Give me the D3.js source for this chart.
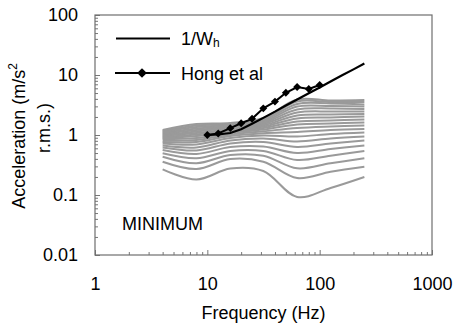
<!DOCTYPE html>
<html>
<head>
<meta charset="utf-8">
<script src="https://cdn.jsdelivr.net/npm/d3@7"></script>
<style>
  body { margin: 0; background: #fff; }
  text { font-family: "Liberation Sans", Arial, sans-serif; fill: #000; }
</style>
</head>
<body>
<div id="chart"></div>
<script>
// gray curves, octave bands (Hz), top curve first
const grayFreq = [4, 8, 16, 31.5, 63, 125, 250];
const grayCurves = [
  [1.21, 1.525, 1.585, 1.92, 3.91, 3.76, 3.83],
  [1.166, 1.44, 1.525, 1.834, 3.62, 3.55, 3.55],
  [1.122, 1.36, 1.468, 1.751, 3.29, 3.35, 3.22],
  [1.08, 1.284, 1.413, 1.672, 2.985, 3.04, 2.985],
  [1.039, 1.212, 1.36, 1.597, 2.66, 2.765, 2.71],
  [1.0, 1.144, 1.308, 1.525, 2.37, 2.465, 2.465],
  [0.962, 1.08, 1.249, 1.451, 2.11, 2.197, 2.24],
  [0.926, 1.019, 1.193, 1.38, 1.884, 1.957, 2.034],
  [0.891, 0.962, 1.139, 1.308, 1.679, 1.745, 1.813],
  [0.858, 0.891, 1.08, 1.23, 1.496, 1.555, 1.616],
  [0.81, 0.825, 1.019, 1.152, 1.308, 1.386, 1.44],
  [0.764, 0.764, 0.962, 1.072, 1.122, 1.212, 1.259],
  [0.722, 0.695, 0.891, 0.981, 0.944, 1.039, 1.101],
  [0.668, 0.619, 0.81, 0.874, 0.779, 0.874, 0.944],
  [0.619, 0.552, 0.722, 0.764, 0.631, 0.722, 0.81],
  [0.562, 0.482, 0.631, 0.643, 0.501, 0.584, 0.668],
  [0.495, 0.409, 0.541, 0.541, 0.383, 0.452, 0.541],
  [0.435, 0.338, 0.464, 0.452, 0.279, 0.338, 0.409],
  [0.359, 0.271, 0.398, 0.359, 0.192, 0.244, 0.296],
  [0.268, 0.181, 0.276, 0.251, 0.0926, 0.131, 0.2]
];

// 1/Wh, third octave bands
const whFreq = [10, 12.5, 16, 20, 25, 31.5, 40, 50, 63, 80, 100, 125, 160, 200, 250];
const whValues = [1.0, 1.02, 1.08, 1.25, 1.54, 1.93, 2.45, 3.1, 3.9, 4.95, 6.2, 7.8, 10, 12.4, 15.5];

// Hong et al
const hongFreq = [10, 12.5, 16, 20, 25, 31.5, 40, 50, 63, 80, 100];
const hongValues = [1.0, 1.06, 1.3, 1.57, 1.86, 2.78, 3.6, 5.05, 6.3, 5.85, 6.8];

const xTicks = [1, 10, 100, 1000];
const xTickLabels = ['1', '10', '100', '1000'];
const yTicks = [0.01, 0.1, 1, 10, 100];
const yTickLabels = ['0.01', '0.1', '1', '10', '100'];

const margin = { top: 15, right: 23, bottom: 69, left: 95 },
  width = 455 - margin.left - margin.right,
  height = 324 - margin.top - margin.bottom;

const svg = d3.select('#chart')
  .append('svg')
  .attr('width', 455)
  .attr('height', 324);

const g = svg.append('g')
  .attr('transform', 'translate(' + margin.left + ',' + margin.top + ')');

const x = d3.scaleLog().domain([1, 1000]).range([0, width]);
const y = d3.scaleLog().domain([0.01, 100]).range([height, 0]);

const isDecade = v => Math.abs(Math.log10(v) - Math.round(Math.log10(v))) < 1e-9;

// minor ticks
g.append('g')
  .attr('transform', 'translate(0,' + height + ')')
  .call(d3.axisBottom(x).tickValues(x.ticks().filter(v => !isDecade(v))).tickSize(-3).tickFormat(''))
  .call(a => a.select('.domain').remove());
g.append('g')
  .call(d3.axisLeft(y).tickValues(y.ticks().filter(v => !isDecade(v))).tickSize(-3).tickFormat(''))
  .call(a => a.select('.domain').remove());

// major ticks + labels
g.append('g')
  .attr('class', 'xaxis')
  .attr('transform', 'translate(0,' + height + ')')
  .call(d3.axisBottom(x).tickValues(xTicks).tickSize(-5).tickPadding(22)
    .tickFormat((d, i) => xTickLabels[i]))
  .call(a => a.select('.domain').remove());
g.append('g')
  .attr('class', 'yaxis')
  .call(d3.axisLeft(y).tickValues(yTicks).tickSize(-5).tickPadding(17)
    .tickFormat((d, i) => yTickLabels[i]))
  .call(a => a.select('.domain').remove());

g.selectAll('.tick line').attr('stroke', '#777');
g.selectAll('.tick text')
  .attr('font-size', 18)
  .attr('font-family', '"Liberation Sans", Arial, sans-serif')
  .attr('fill', '#000');

// frame
g.append('rect')
  .attr('width', width)
  .attr('height', height)
  .attr('fill', 'none')
  .attr('stroke', '#6e6e6e')
  .attr('stroke-width', 1.2);

// lines
const grayLine = d3.line()
  .x((d, i) => x(grayFreq[i]))
  .y(d => y(d))
  .curve(d3.curveCatmullRom.alpha(0.5));

g.selectAll('.gray')
  .data(grayCurves)
  .enter().append('path')
  .attr('class', 'gray')
  .attr('d', grayLine)
  .attr('fill', 'none')
  .attr('stroke', '#9a9a9a')
  .attr('stroke-width', 2);

g.append('path')
  .datum(whValues)
  .attr('d', d3.line().x((d, i) => x(whFreq[i])).y(d => y(d)))
  .attr('fill', 'none')
  .attr('stroke', '#000')
  .attr('stroke-width', 2.2);

g.append('path')
  .datum(hongValues)
  .attr('d', d3.line().x((d, i) => x(hongFreq[i])).y(d => y(d)))
  .attr('fill', 'none')
  .attr('stroke', '#000')
  .attr('stroke-width', 2);

const diamond = d3.symbol().type(d3.symbolDiamond2).size(40);

g.selectAll('.hong')
  .data(hongValues)
  .enter().append('path')
  .attr('class', 'hong')
  .attr('d', diamond)
  .attr('transform', (d, i) => 'translate(' + x(hongFreq[i]) + ',' + y(d) + ')')
  .attr('fill', '#000');

// legend
svg.append('line')
  .attr('x1', 116).attr('x2', 170).attr('y1', 38.5).attr('y2', 38.5)
  .attr('stroke', '#000').attr('stroke-width', 2.2);
const wh = svg.append('text')
  .attr('x', 181).attr('y', 38.5).attr('dy', '0.36em')
  .attr('font-size', 18);
wh.append('tspan').text('1/W');
wh.append('tspan').attr('font-size', 12).attr('dy', 2).text('h');

svg.append('line')
  .attr('x1', 115).attr('x2', 170).attr('y1', 73).attr('y2', 73)
  .attr('stroke', '#000').attr('stroke-width', 2);
svg.append('path')
  .attr('d', d3.symbol().type(d3.symbolDiamond2).size(60))
  .attr('transform', 'translate(142,73)');
svg.append('text')
  .attr('x', 181).attr('y', 73).attr('dy', '0.38em')
  .attr('font-size', 18)
  .text('Hong et al');

svg.append('text')
  .attr('x', 122).attr('y', 230)
  .attr('font-size', 18)
  .text('MINIMUM');

// axis titles
svg.append('text')
  .attr('x', margin.left + width / 2).attr('y', 319)
  .attr('text-anchor', 'middle')
  .attr('font-size', 18)
  .text('Frequency (Hz)');

const yt = svg.append('text')
  .attr('transform', 'translate(25,136) rotate(-90)')
  .attr('text-anchor', 'middle')
  .attr('font-size', 18);
yt.append('tspan').text('Acceleration (m/s');
yt.append('tspan').attr('font-size', 12).attr('dy', -8).text('2');

svg.append('text')
  .attr('transform', 'translate(50,128) rotate(-90)')
  .attr('text-anchor', 'middle')
  .attr('font-size', 18)
  .text('r.m.s.)');
</script>
</body>
</html>
